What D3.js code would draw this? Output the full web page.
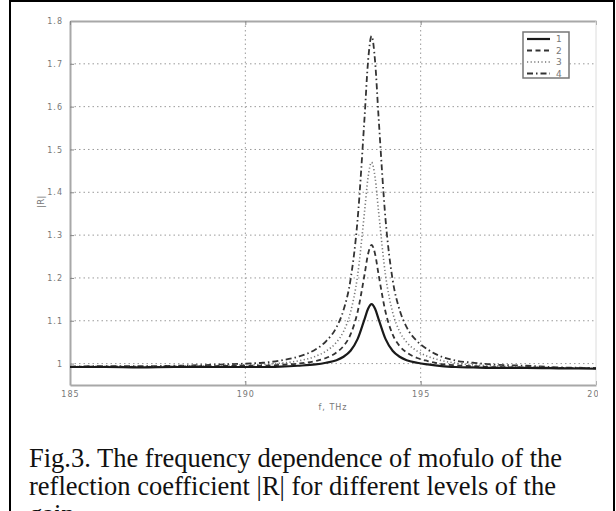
<!DOCTYPE html>
<html>
<head>
<meta charset="utf-8">
<script src="https://cdn.jsdelivr.net/npm/d3@7"></script>
<style>
  body { margin: 0; background: #fff; }
  svg { display: block; }
</style>
</head>
<body>
<svg></svg>
<script>
// frequency grid, THz
let freq = [185, 186, 187, 188, 189, 190, 190.5, 191, 191.5, 192, 192.3, 192.6, 192.8, 193.0, 193.2, 193.4, 193.5,
            193.6, 193.7, 193.8, 194.0, 194.2, 194.4, 194.6, 194.9, 195.2, 195.6, 196, 196.5, 197, 198, 199, 200]

// |R| for each gain level
let r1 = [0.992, 0.992, 0.991, 0.992, 0.992, 0.992, 0.992, 0.993, 0.995, 0.998, 1.002, 1.008, 1.016, 1.030, 1.057, 1.104, 1.128,
          1.139, 1.128, 1.104, 1.057, 1.030, 1.016, 1.008, 1.002, 0.998, 0.994, 0.992, 0.991, 0.990, 0.990, 0.989, 0.988]
let r2 = [0.992, 0.993, 0.992, 0.993, 0.994, 0.995, 0.995, 0.997, 1.000, 1.006, 1.013, 1.026, 1.041, 1.068, 1.120, 1.208, 1.256,
          1.277, 1.256, 1.208, 1.120, 1.068, 1.041, 1.026, 1.013, 1.006, 0.999, 0.996, 0.994, 0.992, 0.991, 0.990, 0.989]
let r3 = [0.993, 0.993, 0.993, 0.994, 0.995, 0.997, 0.998, 1.001, 1.006, 1.017, 1.029, 1.050, 1.075, 1.120, 1.205, 1.355, 1.435,
          1.470, 1.435, 1.355, 1.205, 1.120, 1.075, 1.050, 1.029, 1.017, 1.007, 1.001, 0.997, 0.995, 0.992, 0.990, 0.989]
let r4 = [0.993, 0.994, 0.994, 0.995, 0.997, 1.000, 1.002, 1.007, 1.016, 1.033, 1.052, 1.085, 1.125, 1.196, 1.335, 1.575, 1.706,
          1.765, 1.706, 1.575, 1.335, 1.196, 1.125, 1.085, 1.052, 1.033, 1.016, 1.007, 1.002, 0.998, 0.995, 0.991, 0.990]

let seriesNames = ["1", "2", "3", "4"]
let xTicks = [185, 190, 195, 200]
let yTicks = [1, 1.1, 1.2, 1.3, 1.4, 1.5, 1.6, 1.7, 1.8]
let caption = ["Fig.3. The frequency dependence of mofulo of the",
               "reflection coefficient |R| for different levels of the",
               "gain."]

let width = 616
let height = 511
let padLeft = 70, padRight = 596, padTop = 21, padBottom = 385

let svg = d3.select("svg").attr("width", width).attr("height", height)

let xScale = d3.scaleLinear().domain([185, 200]).range([padLeft, padRight])
let yScale = d3.scaleLinear().domain([0.95, 1.8]).range([padBottom, padTop])

// clip: the scan is cut just right of the plot
svg.append("clipPath").attr("id", "cut")
   .append("rect").attr("x", 0).attr("y", 0).attr("width", 598).attr("height", height)

let plot = svg.append("g").attr("clip-path", "url(#cut)")

// grid
plot.append("g").selectAll("line")
    .data(yTicks.filter(d => d < 1.8))
    .enter().append("line")
    .attr("x1", padLeft).attr("x2", padRight)
    .attr("y1", d => yScale(d)).attr("y2", d => yScale(d))
    .attr("stroke", "#9a9a9a").attr("stroke-width", 1).attr("stroke-dasharray", "1.5,3")
plot.append("g").selectAll("line")
    .data([190, 195])
    .enter().append("line")
    .attr("y1", padTop).attr("y2", padBottom)
    .attr("x1", d => xScale(d)).attr("x2", d => xScale(d))
    .attr("stroke", "#9a9a9a").attr("stroke-width", 1).attr("stroke-dasharray", "1.5,3")

// axes
let xAxis = d3.axisBottom(xScale).tickValues(xTicks).tickFormat(d3.format("d"))
              .tickSizeInner(-4).tickSizeOuter(0).tickPadding(6)
let yAxis = d3.axisLeft(yScale).tickValues(yTicks).tickFormat(d => d === 1 ? "1" : d3.format(".1f")(d))
              .tickSizeInner(-4).tickSizeOuter(0).tickPadding(7)
let xTop = d3.axisTop(xScale).tickValues(xTicks).tickFormat("").tickSizeInner(-4).tickSizeOuter(0)

let gx = plot.append("g").attr("transform", "translate(0," + padBottom + ")").call(xAxis)
let gy = plot.append("g").attr("transform", "translate(" + padLeft + ",0)").call(yAxis)
let gt = plot.append("g").attr("transform", "translate(0," + padTop + ")").call(xTop)

;[gx, gy, gt].forEach(g => {
  g.select(".domain").attr("stroke", "#a8a8a8").attr("stroke-width", 2)
  g.selectAll(".tick line").attr("stroke", "#888").attr("stroke-width", 1)
  g.selectAll("text").attr("fill", "#777").style("font-family", "DejaVu Sans, sans-serif")
   .style("font-size", "8px").style("letter-spacing", "1px")
})
plot.append("line").attr("x1", padRight).attr("x2", padRight).attr("y1", padTop).attr("y2", padBottom)
    .attr("stroke", "#dcdcdc").attr("stroke-width", 1)

// curves
let styles = [
  { data: r4, dash: "6,3,1.5,3", color: "#333", w: 1.8 },
  { data: r3, dash: "1.2,2.4", color: "#777", w: 1.6 },
  { data: r2, dash: "5,3.5", color: "#333", w: 1.8 },
  { data: r1, dash: null, color: "#1a1a1a", w: 2.2 }
]
let line = d3.line().x(d => xScale(d[0])).y(d => yScale(d[1])).curve(d3.curveMonotoneX)
styles.forEach(s => {
  plot.append("path")
      .datum(freq.map((f, i) => [f, s.data[i]]))
      .attr("d", line)
      .attr("fill", "none")
      .attr("stroke", s.color)
      .attr("stroke-width", s.w)
      .attr("stroke-dasharray", s.dash)
})

// axis titles
svg.append("text").text("|R|")
   .attr("transform", "translate(44,202) rotate(-90)")
   .attr("text-anchor", "middle")
   .attr("fill", "#777").style("font-family", "DejaVu Sans, sans-serif").style("font-size", "9px")
svg.append("text").text("f, THz")
   .attr("x", (padLeft + padRight) / 2).attr("y", 410)
   .attr("text-anchor", "middle")
   .attr("fill", "#777").style("font-family", "DejaVu Sans, sans-serif").style("font-size", "8px")
   .style("letter-spacing", "1px")

// legend
let legend = svg.append("g").attr("transform", "translate(523,32)")
legend.append("rect").attr("width", 46).attr("height", 46)
      .attr("fill", "#fff").attr("stroke", "#777").attr("stroke-width", 1.5)
let legStyles = [styles[3], styles[2], styles[1], styles[0]]
legend.selectAll("g.item")
      .data(seriesNames)
      .enter().append("g").attr("class", "item")
      .each(function (d, i) {
        let g = d3.select(this)
        let yy = 7 + i * 11.5
        g.append("line").attr("x1", 4).attr("x2", 27).attr("y1", yy).attr("y2", yy)
         .attr("stroke", legStyles[i].color).attr("stroke-width", legStyles[i].w)
         .attr("stroke-dasharray", legStyles[i].dash)
        g.append("text").text(d).attr("x", 33).attr("y", yy + 3)
         .attr("fill", "#777").style("font-family", "DejaVu Sans, sans-serif").style("font-size", "9px")
      })

// caption (third line is cut by the bottom edge, as in the scan)
svg.selectAll("text.cap")
   .data(caption)
   .enter().append("text").attr("class", "cap")
   .text(d => d)
   .attr("x", 29).attr("y", (d, i) => 467 + i * 28)
   .attr("fill", "#111")
   .style("font-family", "Liberation Serif, Times New Roman, serif").style("font-size", "26.5px")

// outer frame
svg.append("rect").attr("x", 10).attr("y", 1).attr("width", 604).attr("height", 540)
   .attr("fill", "none").attr("stroke", "#000").attr("stroke-width", 2)
</script>
</body>
</html>
